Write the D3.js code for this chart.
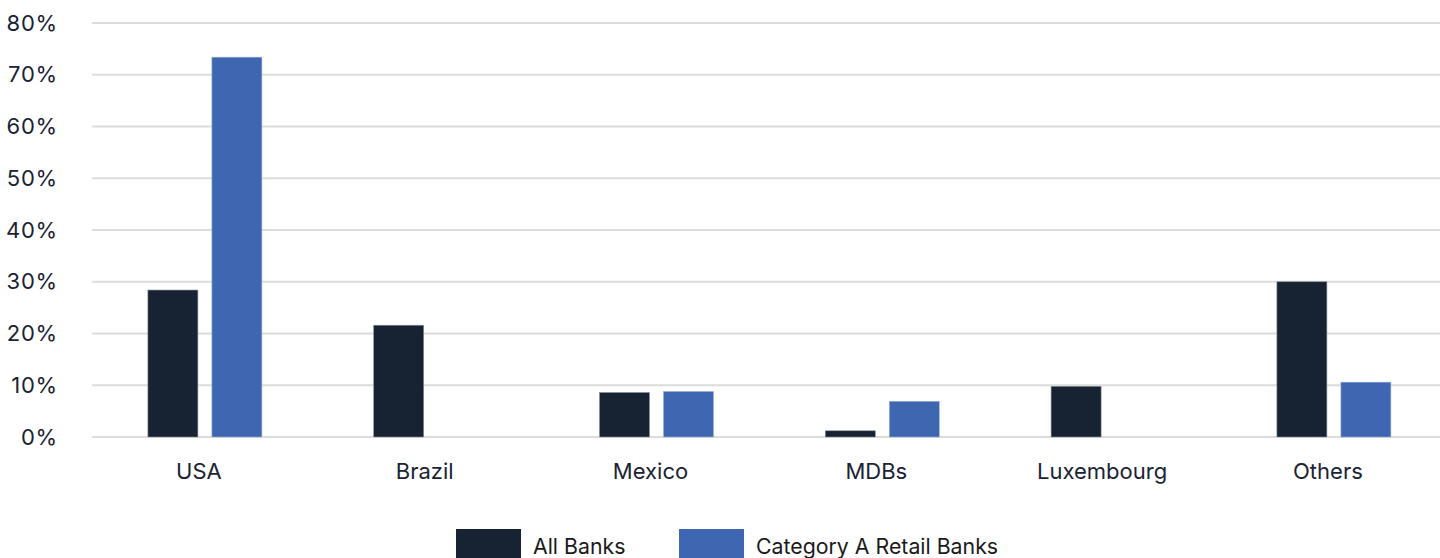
<!DOCTYPE html>
<html>
<head>
<meta charset="utf-8">
<script src="https://cdn.jsdelivr.net/npm/d3@7"></script>
<style>
  html, body { margin: 0; padding: 0; background: #fff; }
  svg { display: block; font-family: Inter, "Noto Sans", sans-serif; }
</style>
</head>
<body>
<svg id="chart" width="1440" height="558"></svg>
<script>
// Share of holdings by jurisdiction (%)
const categories = ["USA", "Brazil", "Mexico", "MDBs", "Luxembourg", "Others"];
const seriesNames = ["All Banks", "Category A Retail Banks"];
const allBanks = [28.4, 21.6, 8.6, 1.2, 9.8, 30.0];
const categoryARetail = [73.4, null, 8.8, 6.9, null, 10.6];
const yTicks = [0, 10, 20, 30, 40, 50, 60, 70, 80];

const colors = ["#172233", "#3f66b0"];
const seriesValues = [allBanks, categoryARetail];

const svg = d3.select("#chart");
const width = 1440, height = 558;
const plotLeft = 92, plotTop = 23, plotBottom = 437;
const bandStep = 225.8;

const x = d3.scaleBand()
  .domain(categories)
  .range([plotLeft, plotLeft + bandStep * categories.length])
  .paddingInner(0)
  .paddingOuter(0);

const y = d3.scaleLinear()
  .domain([0, 80])
  .range([plotBottom, plotTop]);

const barW = 50, barGap = 14;

// gridlines
svg.append("g")
  .selectAll("line")
  .data(yTicks)
  .join("line")
  .attr("x1", plotLeft)
  .attr("x2", width)
  .attr("y1", d => y(d))
  .attr("y2", d => y(d))
  .attr("stroke", "#dcdcdc")
  .attr("stroke-width", 2);

// y-axis labels
const yAxis = d3.axisLeft(y).tickValues(yTicks).tickFormat(d => d + "%").tickSize(0).tickPadding(0);
const yG = svg.append("g").attr("transform", `translate(58,0)`).call(yAxis);
yG.select(".domain").remove();
yG.selectAll("text")
  .attr("font-size", 22)
  .attr("font-family", "Inter, sans-serif")
  .attr("fill", "#1a2233")
  .attr("letter-spacing", "0.8");

// bars
seriesValues.forEach((vals, si) => {
  const offset = si === 0 ? -(barGap / 2 + barW) : barGap / 2;
  svg.append("g")
    .selectAll("rect")
    .data(categories.map((c, i) => ({ c, v: vals[i] })).filter(d => d.v != null))
    .join("rect")
    .attr("x", d => x(d.c) + x.bandwidth() / 2 + offset)
    .attr("y", d => y(d.v))
    .attr("width", barW)
    .attr("height", d => y(0) - y(d.v))
    .attr("fill", colors[si])
    .attr("stroke", si === 0 ? "#8a909a" : "#9fb3d8")
    .attr("stroke-width", 0.6);
});

// x-axis labels
const xAxis = d3.axisBottom(x).tickSize(0).tickPadding(0);
const xG = svg.append("g").attr("transform", `translate(-6,${y(0) + 26})`).call(xAxis);
xG.select(".domain").remove();
xG.selectAll("text")
  .attr("font-size", 22)
  .attr("font-family", "Inter, sans-serif")
  .attr("fill", "#1a2233");

// legend
const legendItems = [
  { name: seriesNames[0], color: colors[0], x: 456 },
  { name: seriesNames[1], color: colors[1], x: 679 }
];
const lg = svg.append("g");
legendItems.forEach(item => {
  lg.append("rect")
    .attr("x", item.x).attr("y", 529)
    .attr("width", 65).attr("height", 34)
    .attr("fill", item.color);
  lg.append("text")
    .attr("x", item.x + 77).attr("y", 554)
    .attr("font-size", 21.3)
    .attr("fill", "#1a1a1a")
    .text(item.name);
});
</script>
</body>
</html>
